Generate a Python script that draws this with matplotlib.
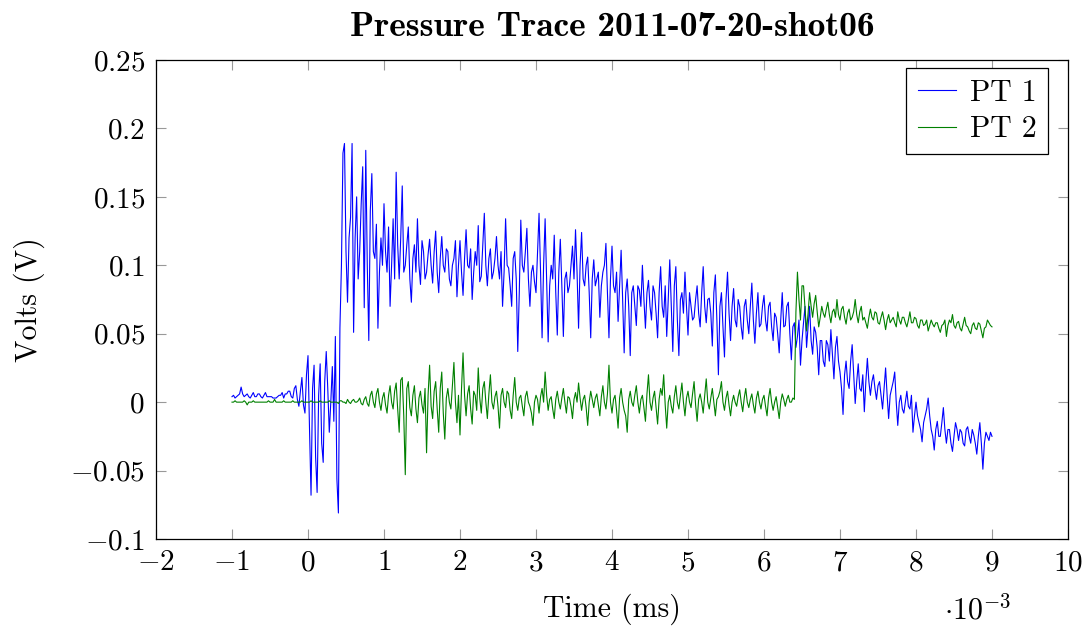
import numpy as np
import matplotlib
matplotlib.use("Agg")
import matplotlib.pyplot as plt
from matplotlib.ticker import FixedLocator, FuncFormatter

# PT 1 trace in mV, every 0.02 ms from -1 to 9 (x1e-3 s)
pt1_mv = [
    4, 5, 3, 4, 5, 6, 11, 6, 4, 5,           # -1.0
    6, 4, 3, 5, 7, 4, 4, 6, 6, 4,
    3, 5, 7, 4, 4, 4, 4, 3, 3, 3,
    4, 5, 5, 7, 3, 6, 6, 8, 8, 4,
    3, 10, 12, 2, -3, 8, 18, -2, -8, 20,
    34, -20, -68, 10, 27, -40, -66, 5, 28, -30,   # 0.0
    -44, 15, 37, 10, -22, 0, 26, -14, 48, -56,
    -81, 54, 100, 182, 189, 110, 73, 120, 135, 189,
    51, 120, 150, 90, 110, 145, 172, 69, 184, 100,
    45, 140, 167, 110, 105, 130, 54, 95, 120, 100,
    145, 110, 95, 128, 70, 100, 134, 90, 168, 115,  # 1.0
    90, 120, 158, 95, 100, 115, 128, 90, 73, 105,
    115, 95, 134, 100, 86, 118, 110, 90, 95, 108,
    119, 100, 87, 110, 125, 95, 80, 105, 121, 100,
    95, 112, 110, 90, 85, 100, 105, 118, 77, 100,
    118, 95, 78, 105, 126, 100, 98, 112, 75, 95,    # 2.0
    110, 100, 129, 88, 92, 115, 138, 100, 85, 105,
    112, 90, 95, 105, 121, 100, 90, 110, 70, 95,
    134, 100, 98, 85, 70, 105, 110, 90, 37, 80,
    133, 100, 95, 110, 127, 90, 70, 95, 100, 88,
    80, 110, 138, 95, 47, 100, 134, 90, 44, 85,     # 3.0
    100, 90, 122, 80, 49, 95, 119, 85, 48, 90,
    95, 80, 85, 100, 114, 90, 126, 95, 54, 100,
    124, 90, 85, 100, 106, 80, 47, 90, 104, 85,
    90, 95, 62, 85, 95, 100, 116, 80, 47, 90,
    114, 85, 80, 95, 59, 85, 111, 75, 36, 80,       # 4.0
    90, 70, 34, 80, 85, 70, 56, 85, 82, 70,
    100, 75, 54, 80, 89, 70, 60, 85, 80, 65,
    47, 80, 99, 70, 62, 85, 48, 75, 104, 70,
    37, 85, 99, 60, 34, 75, 80, 65, 95, 70,
    49, 80, 70, 60, 62, 75, 85, 65, 55, 80,         # 5.0
    99, 70, 58, 75, 76, 65, 41, 80, 93, 60,
    20, 70, 80, 55, 33, 75, 95, 65, 45, 70,
    83, 60, 55, 75, 70, 55, 46, 70, 75, 60,
    50, 70, 87, 60, 43, 65, 80, 55, 57, 70,
    78, 60, 52, 70, 73, 55, 45, 65, 62, 50,         # 6.0
    36, 60, 80, 55, 56, 70, 73, 50, 31, 55,
    58, 40, 48, 60, 27, 45, 58, 70, 40, 55,
    70, 45, 35, 55, 51, 40, 20, 45, 45, 30,
    26, 45, 42, 30, 53, 35, 17, 40, 48, 30,
    22, 10, -9, 20, 30, 15, 10, 30, 42, 20,         # 7.0
    -1, 15, 28, 10, 8, 20, -7, 15, 32, 15,
    5, 15, 20, 10, 2, 12, 15, 5, -5, 10,
    25, 5, -12, 5, 10, 15, 22, 0, -17, 0,
    5, -5, -8, 0, 8, -3, -5, 5, -22, -10,
    0, -10, -15, -20, -29, -15, -10, -5, 3, -10,    # 8.0
    -20, -25, -35, -20, -14, -25, -25, -15, -4, -20,
    -30, -20, -20, -30, -36, -25, -15, -20, -28, -20,
    -22, -30, -32, -20, -18, -25, -30, -20, -24, -30,
    -38, -25, -15, -30, -49, -30, -22, -25, -28, -22,
    -25,
]

# PT 2 trace in mV, same sampling
pt2_mv = [
    0, 0, 1, 0, 0, 0, 0, 0, 1, 0,               # -1.0
    -2, 0, 0, 0, 1, 0, 0, 0, 0, 0,
    0, 0, 0, 0, 1, 0, 0, 0, 2, 0,
    0, 0, 0, 0, 1, 0, 0, 0, 0, 0,
    1, 0, 0, 0, 0, 0, 1, 0, 0, 0,
    0, 0, 1, 0, 0, 0, 0, 0, 1, 0,               # 0.0
    0, 0, 0, 0, 1, 0, 0, 0, 0, 0,
    -1, 1, 1, 0, 0, -1, 2, 0, -1, 1,
    2, 0, 0, 1, 3, -1, -2, 2, 4, -1,
    -3, 5, 8, 0, -4, 6, 10, 0, -6, 3,
    7, -2, -8, 5, 12, 0, -5, 8, 14, -5,         # 1.0
    -22, 16, 18, -10, -53, 10, 15, -4, -10, 5,
    12, -5, -15, 3, 8, -2, -8, 10, -37, 5,
    27, -3, -12, 8, 15, -5, -22, 10, 22, -8,
    -27, 3, 10, 0, -5, 12, 29, 0, -15, 5,
    -24, 10, 36, 5, -10, 6, 12, -5, -16, 8,     # 2.0
    5, -6, 25, 3, -8, 10, 15, 0, -12, 6,
    20, 0, -5, 4, 8, -3, -19, 5, 10, 0,
    -4, 8, 6, -6, -12, 5, 18, 0, -6, 3,
    5, -3, -10, 4, 8, 0, -3, -8, -17, 0,
    5, 2, -8, 4, 10, 0, 22, 5, -6, 2,           # 3.0
    4, -5, -12, 2, 8, 0, -5, 3, 10, 0,
    -8, 4, 3, -3, -12, 2, 7, 0, 14, 3,
    -6, 2, 5, -4, -17, 0, 8, 2, -4, 3,
    6, -2, -10, 4, 12, 0, -5, 6, 27, 0,
    -8, 2, 5, -6, -19, 3, 10, 0, -6, -10,       # 4.0
    -22, 2, 8, 0, -3, 5, 12, 0, -8, 2,
    5, -4, -14, 6, 20, 0, -6, 3, 8, -4,
    -16, 2, 10, 5, 20, -2, -19, 0, 5, -3,
    -8, 4, 12, 0, -5, 5, 14, 0, -10, 3,
    8, 0, -4, 6, 15, -2, -14, 2, 6, 0,          # 5.0
    -8, 5, 17, 0, -5, 3, 10, 0, -10, 2,
    4, 8, 15, 0, -6, 3, 8, -2, -10, 0,
    5, 0, -3, 4, 9, 0, -7, 3, 10, 0,
    -4, 2, 6, -2, -8, 3, 8, 0, -5, 2,
    5, -3, -10, 3, 10, 0, -6, 0, 4, -4,         # 6.0
    -12, 0, 6, 2, -3, 2, 5, 0, 0, 3,
    2, 66, 95, 75, 60, 85, 85, 68, 52, 65,
    80, 70, 62, 72, 78, 66, 55, 62, 70, 65,
    62, 68, 73, 64, 58, 66, 68, 62, 75, 64,
    60, 68, 70, 62, 57, 65, 68, 60, 62, 66,     # 7.0
    75, 64, 58, 66, 70, 60, 62, 58, 54, 62,
    68, 62, 60, 66, 65, 58, 57, 62, 66, 60,
    53, 60, 64, 58, 60, 62, 58, 55, 66, 60,
    57, 62, 62, 58, 55, 60, 66, 58, 58, 62,
    61, 56, 54, 60, 60, 56, 57, 60, 52, 56,     # 8.0
    60, 57, 55, 58, 58, 54, 51, 56, 57, 60,
    48, 56, 60, 58, 64, 56, 54, 58, 59, 54,
    52, 57, 62, 56, 55, 52, 50, 56, 58, 54,
    53, 58, 57, 52, 47, 54, 55, 60, 58, 56,
    55,
]

x_ticks = [-2, -1, 0, 1, 2, 3, 4, 5, 6, 7, 8, 9, 10]
y_ticks = [-0.1, -0.05, 0, 0.05, 0.1, 0.15, 0.2, 0.25]

plt.rcParams['font.family'] = ['cmr10', 'DejaVu Serif']
plt.rcParams['mathtext.fontset'] = 'cm'
plt.rcParams['axes.unicode_minus'] = False

fig = plt.figure(figsize=(10.89, 6.27), dpi=100)
ax = fig.add_axes([156 / 1089, 1 - 539 / 627, 912 / 1089, 479 / 627])

t1 = np.linspace(-1, 9, len(pt1_mv))
t2 = np.linspace(-1, 9, len(pt2_mv))
ax.plot(t1, np.array(pt1_mv) / 1000, color='#0000ff', linewidth=0.8, label='PT 1')
ax.plot(t2, np.array(pt2_mv) / 1000, color='#008000', linewidth=0.8, label='PT 2')

ax.set_xlim(-2, 10)
ax.set_ylim(-0.1, 0.25)
ax.xaxis.set_major_locator(FixedLocator(x_ticks))
ax.yaxis.set_major_locator(FixedLocator(y_ticks))


def num_fmt(v, pos):
    s = '%g' % round(v, 4)
    return '$' + s + '$'


ax.xaxis.set_major_formatter(FuncFormatter(num_fmt))
ax.yaxis.set_major_formatter(FuncFormatter(num_fmt))
ax.tick_params(direction='in', length=7, width=0.8, color='#999999',
               top=True, right=True, labelsize=21, pad=8)
for sp in ax.spines.values():
    sp.set_linewidth(0.9)

ax.set_title('Pressure Trace 2011-07-20-shot06', family='cmb10', fontsize=25.5, pad=17)
ax.set_xlabel('Time (ms)', fontsize=21.5, labelpad=12)
ax.set_ylabel('Volts (V)', fontsize=21.5, labelpad=18)
ax.text((1011 - 156) / 912, -0.148, r'$\cdot 10^{-3}$', transform=ax.transAxes,
        fontsize=21.5, ha='right', va='center')

leg = ax.legend(loc='upper right', bbox_to_anchor=((1048 - 156) / 912, 1 - 8 / 479),
                borderaxespad=0, fancybox=False, edgecolor='black', framealpha=1,
                fontsize=21.5, handlelength=1.3, handletextpad=0.45, borderpad=0.38,
                labelspacing=0.3)
leg.get_frame().set_linewidth(0.9)

fig.savefig('out.png', dpi=100)
